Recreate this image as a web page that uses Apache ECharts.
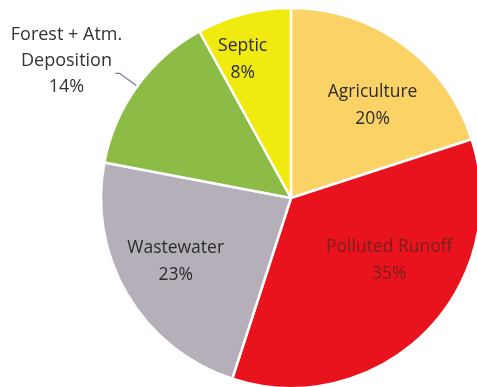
<!DOCTYPE html>
<html><head><meta charset="utf-8">
<script src="https://cdn.jsdelivr.net/npm/echarts@6/dist/echarts.min.js"></script>
<style>html,body{margin:0;padding:0;background:#fff}#c{width:477px;height:387px}</style>
</head><body><div id="c"></div>
<script>
const categories = ['Agriculture', 'Polluted Runoff', 'Wastewater', 'Forest + Atm.\nDeposition', 'Septic'];
const values = [20, 35, 23, 14, 8];
const colors = ['#fbd266', '#e8131c', '#b4afb9', '#8cbc45', '#f1ea10'];
const labelColors = ['#2b2b2b', '#7a1f1f', '#2b2b2b', '#333333', '#2b2b2b'];
const labelShift = [[24, -13], [29, -7], [-31, 14], [-45, -13], [-24, -44]];

const chart = echarts.init(document.getElementById('c'));
chart.setOption({
  animation: false,
  series: [{
    type: 'pie',
    center: [291, 198],
    radius: 190,
    startAngle: 90,
    clockwise: true,
    itemStyle: { borderColor: '#ffffff', borderWidth: 2.5 },
    label: {
      position: 'inside',
      formatter: '{b}\n{d}%',
      fontFamily: 'Open Sans',
      fontSize: 17.5,
      lineHeight: 27,
      color: '#2b2b2b'
    },
    labelLine: { show: false },
    labelLayout: function (p) {
      const s = labelShift[p.dataIndex];
      const r = { dx: s[0], dy: s[1] };
      if (p.dataIndex === 3) r.align = 'center';
      return r;
    },
    data: categories.map((c, i) => {
      const d = { name: c, value: values[i], itemStyle: { color: colors[i] }, label: { color: labelColors[i] } };
      if (i === 3) {
        d.label = { position: 'outside', color: labelColors[i], alignTo: 'none', overflow: 'none', width: 140, distanceToLabelLine: 4, lineHeight: 26, fontSize: 18 };
        d.labelLine = { show: true, length: 22, length2: 4, lineStyle: { color: '#6f7a96', width: 1.2 } };
      }
      return d;
    })
  }]
});
</script></body></html>
